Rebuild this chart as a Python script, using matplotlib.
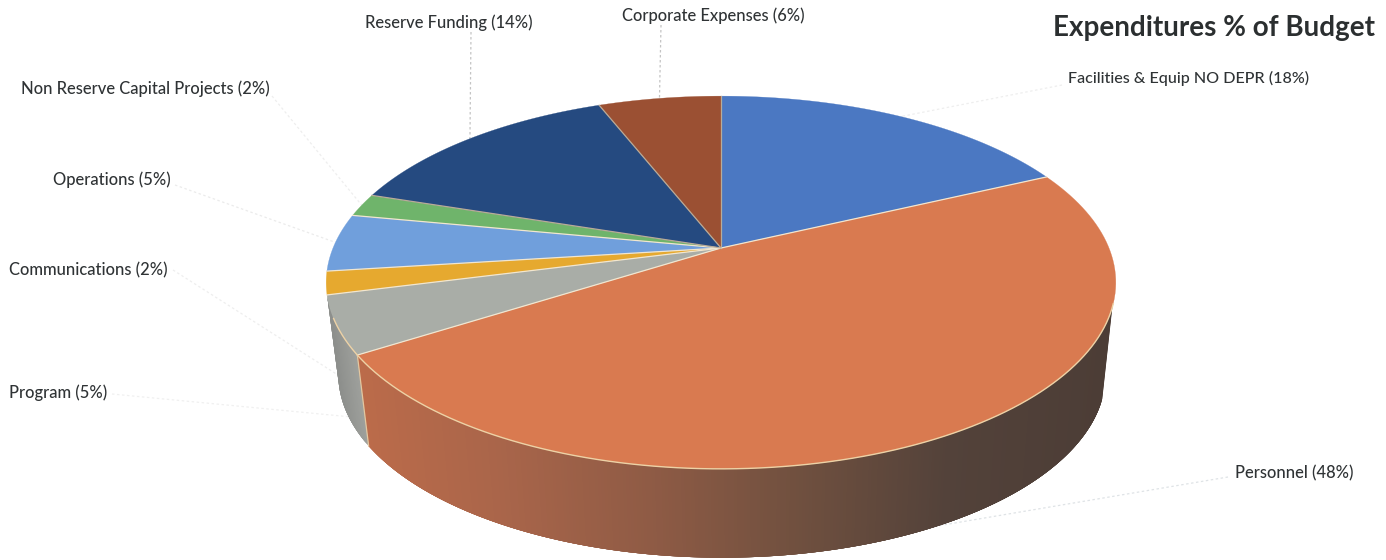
import numpy as np
import matplotlib
matplotlib.use("Agg")
import matplotlib.pyplot as plt
from matplotlib.colors import to_rgb

names = ["Facilities & Equip NO DEPR", "Personnel", "Program", "Communications",
         "Operations", "Non Reserve Capital Projects", "Reserve Funding", "Corporate Expenses"]
percents = [18, 48, 5, 2, 5, 2, 14, 6]
colors = ["#4b78c2", "#d97a50", "#a9ada7", "#e6a92f", "#709fdc", "#6fb46b", "#254a80", "#9b5033"]

# label anchors (left edge, vertical centre) and where each leader leaves the label
label_xy = [(1068, 78), (1235, 473), (9, 393), (9, 270), (53, 180), (21, 89), (365, 23), (622, 16)]
label_size = [11.6, 11.9, 11.9, 11.9, 11.9, 11.9, 11.9, 11.9]
leader_from = [(1062, 85), (1228, 477), (112, 394), (173, 270), (175, 185), (272, 96), (471, 32), (661, 25)]
leader_color = ["#eeeeee", "#dfe3e6", "#f0f0f0", "#eeeeee", "#ebebeb", "#eeeeee", "#c4c4c4", "#c4c4c4"]
on_wall = [False, True, True, True, False, False, False, False]

# perspective of the top face and of the bottom rim
TOP = dict(cx=721, cy=248, a=388, b=180)
BOTTOM = dict(cx=722, cy=341, a=377, b=176.6)
K = -0.185

# shade of the front wall, from left to right
wall_x = [360, 500, 650, 800, 950, 1110]
wall_shades = ["#bb6b4a", "#a9654a", "#8f5b45", "#70503f", "#53423a", "#4c3d36"]
program_x = [330, 365]
program_shades = ["#8d8f8c", "#a3a5a1"]


def rim(deg, face):
    # clockwise degrees from 12 o'clock to picture coordinates
    t = np.radians(deg)
    x, y = np.sin(t), np.cos(t)
    w = 1 - K * y
    return face["cx"] + face["a"] * x / w, face["cy"] - face["b"] * y / w


def shade(x, xs, stops):
    rgb = np.array([to_rgb(c) for c in stops])
    return [np.interp(x, xs, rgb[:, i]) for i in range(3)]


cum = np.cumsum([0] + percents) * 3.6

fig = plt.figure(figsize=(13.86, 5.6), dpi=100)
ax = fig.add_axes([0, 0, 1, 1])
ax.set_xlim(0, 1386)
ax.set_ylim(560, 0)
ax.axis("off")

# leaders go under the pie
for i in range(len(names)):
    mid = (cum[i] + cum[i + 1]) / 2
    ex, ey = rim(mid, BOTTOM if on_wall[i] else TOP)
    ax.plot([leader_from[i][0], ex], [leader_from[i][1], ey], color=leader_color[i],
            lw=0.9, ls=(0, (2, 2)), zorder=1)

# front wall, Personnel then Program; each strip overlaps the next so no seams show
for i, xs, stops in [(1, wall_x, wall_shades), (2, program_x, program_shades)]:
    start = max(cum[i], 108)
    for d in np.arange(start, cum[i + 1], 0.4):
        d2 = min(d + 2.0, cum[i + 1])
        x1, y1 = rim(d, TOP)
        x2, y2 = rim(d2, TOP)
        x3, y3 = rim(d2, BOTTOM)
        x4, y4 = rim(d, BOTTOM)
        c = shade(x1, xs, stops)
        ax.fill([x1, x2, x3, x4], [y1, y2, y3, y4], color=c, lw=0, zorder=2)

# the seam between the two wall colours
xa, ya = rim(cum[2], TOP)
xb, yb = rim(cum[2], BOTTOM)
ax.plot([xa, xb], [ya, yb], color="#e3c7a0", lw=0.9, zorder=3)

# top face
for i in range(len(names)):
    deg = np.linspace(cum[i], cum[i + 1], 120)
    xs, ys = rim(deg, TOP)
    ax.fill(np.r_[TOP["cx"], xs], np.r_[TOP["cy"], ys], color=colors[i], lw=0.2, zorder=4)

# thin light lines between slices
for i in range(len(names)):
    x, y = rim(cum[i], TOP)
    line = "#f1e6d0" if 1 <= i <= 5 else "#b9ab98"
    ax.plot([TOP["cx"], x], [TOP["cy"], y], color=line, lw=0.9, zorder=5)

# cream rim on the front of Personnel and Program
deg = np.linspace(107, cum[3] - 7, 200)
xs, ys = rim(deg, TOP)
ax.plot(xs, ys, color="#edd2a6", lw=1.0, zorder=5)

for name, pct, (x, y), size in zip(names, percents, label_xy, label_size):
    ax.text(x, y, f"{name} ({pct}%)", ha="left", va="center", family="Lato",
            fontsize=size, fontweight="medium", color="#2f3335", zorder=6)

ax.text(1053, 28, "Expenditures % of Budget", ha="left", va="center", family="Lato",
        fontweight="bold", fontsize=20, color="#2b2f30", zorder=6)

fig.savefig("out.png", dpi=100)
